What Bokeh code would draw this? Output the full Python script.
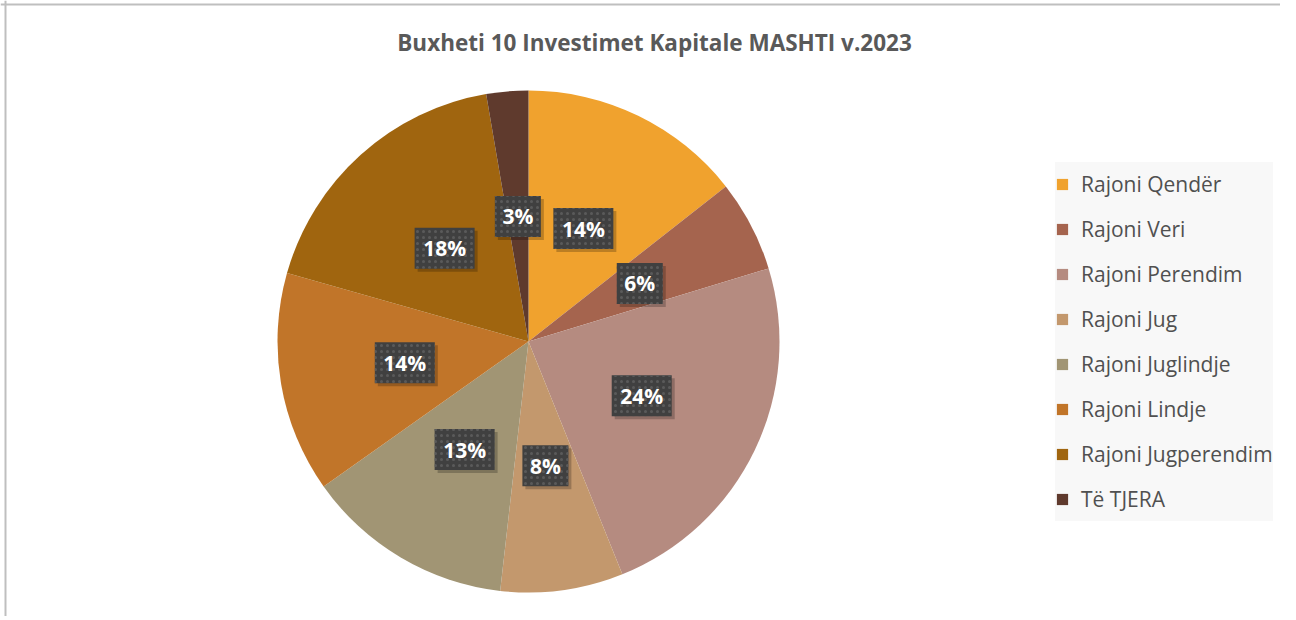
import math
from bokeh.plotting import figure
from bokeh.models import ColumnDataSource, Label, Range1d, Span
from bokeh.core.properties import value
from bokeh.embed import file_html
from bokeh.resources import INLINE

# ---- data ----
regions = ["Rajoni Qendër", "Rajoni Veri", "Rajoni Perendim", "Rajoni Jug",
           "Rajoni Juglindje", "Rajoni Lindje", "Rajoni Jugperendim", "Të TJERA"]
shares = [14.4, 5.9, 23.6, 7.9, 13.4, 14.2, 17.9, 2.7]
colors = ["#F0A22E", "#A5644E", "#B58B80", "#C3986D",
          "#A19574", "#C17529", "#A0650F", "#5F3A2D"]
title_text = "Buxheti 10 Investimet Kapitale MASHTI v.2023"

# ---- layout ----
W, H = 1280, 616
CX, CY, R = 528, H - 341, 251

total = sum(shares)
starts, ends, lx, ly, labels, bw = [], [], [], [], [], []
cum = 0.0
for s in shares:
    f0 = cum / total
    f1 = (cum + s) / total
    starts.append(math.pi / 2 - 2 * math.pi * f1)
    ends.append(math.pi / 2 - 2 * math.pi * f0)
    mid = (f0 + f1) / 2
    a = 2 * math.pi * mid
    lx.append(CX + 0.5 * R * math.sin(a))
    ly.append(CY + 0.5 * R * math.cos(a))
    t = f"{round(100 * s / total)}%"
    labels.append(t)
    bw.append(18 + 14 * len(t))
    cum += s

src = ColumnDataSource(dict(region=regions, color=colors, start=starts, end=ends,
                            x=[CX] * len(shares), y=[CY] * len(shares)))
lab_src = ColumnDataSource(dict(x=lx, y=ly, text=labels, w=bw,
                                sx=[v + 3 for v in lx], sy=[v - 3 for v in ly]))

p = figure(width=W, height=H, output_backend="svg", toolbar_location=None,
           x_range=Range1d(0, W), y_range=Range1d(0, H), min_border=0)
p.axis.visible = False
p.grid.visible = False
p.outline_line_color = None
p.background_fill_color = "white"
p.border_fill_color = "white"

p.wedge(x="x", y="y", radius=R, start_angle="start", end_angle="end",
        fill_color="color", line_color=None, source=src, legend_field="region")

# label shadows and boxes
p.rect(x="sx", y="sy", width="w", height=41, width_units="screen", height_units="screen",
       fill_color="black", fill_alpha=0.22, line_color=None, source=lab_src)
p.rect(x="x", y="y", width="w", height=41, width_units="screen", height_units="screen",
       fill_color="#404040", line_color=None, source=lab_src,
       hatch_pattern="dot", hatch_color="#5a5a5a", hatch_scale=6, hatch_weight=1.5)
p.text(x="x", y="y", text="text", source=lab_src, text_align="center",
       text_baseline="middle", text_font=value("Open Sans"), text_font_style="bold",
       text_font_size="21px", text_color="white")

title = Label(x=654, y=H - 42, text=title_text, text_align="center",
              text_baseline="middle", text_font="Open Sans", text_font_style="bold",
              text_font_size="22.5px", text_color="#595959")
p.add_layout(title)

# chart border (top and left visible)
p.add_layout(Span(location=H - 4, dimension="width", line_color="#BFBFBF", line_width=2))
p.add_layout(Span(location=5, dimension="height", line_color="#BFBFBF", line_width=2))

leg = p.legend[0]
leg.location = (1055, H - 521)
leg.background_fill_color = "#F8F8F8"
leg.background_fill_alpha = 1.0
leg.border_line_color = None
leg.label_text_font = "Open Sans"
leg.label_text_font_size = "21px"
leg.label_text_color = "#505050"
leg.glyph_width = 14
leg.glyph_height = 14
leg.label_height = 44
leg.spacing = 1
leg.padding = 12
leg.margin = 0
leg.label_standoff = 12

open("out.html", "w").write(file_html(p, INLINE))
